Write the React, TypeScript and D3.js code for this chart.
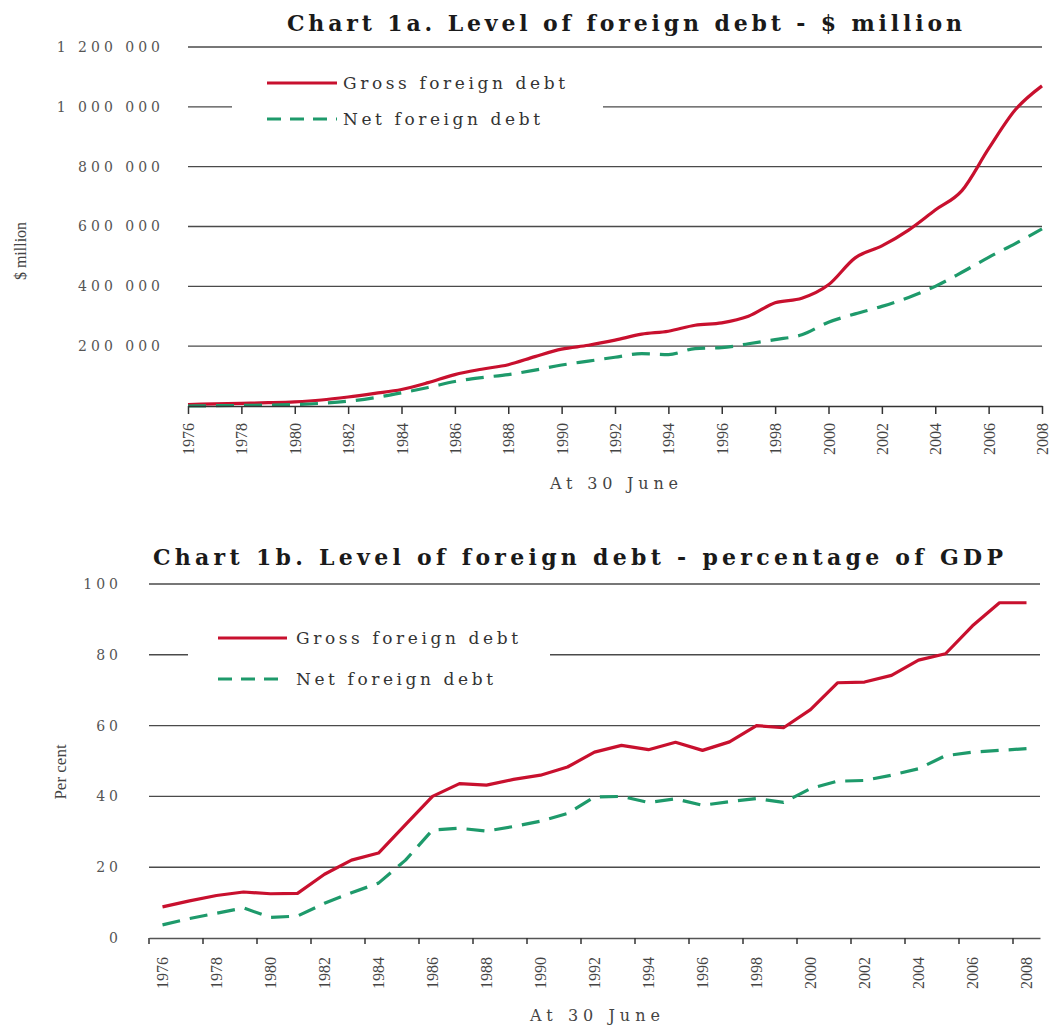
import React, { useRef, useEffect } from 'react';
import * as d3 from 'd3';

// Years at 30 June
const years = [
  1976, 1977, 1978, 1979, 1980, 1981, 1982, 1983, 1984, 1985, 1986,
  1987, 1988, 1989, 1990, 1991, 1992, 1993, 1994, 1995, 1996, 1997,
  1998, 1999, 2000, 2001, 2002, 2003, 2004, 2005, 2006, 2007, 2008,
];
const tickYears = [
  1976, 1978, 1980, 1982, 1984, 1986, 1988, 1990, 1992,
  1994, 1996, 1998, 2000, 2002, 2004, 2006, 2008,
];

// Chart 1a - $ million
const grossMillion = [
  5000, 7000, 9000, 11000, 14000, 20000, 30000, 42000, 55000, 78000, 105000,
  123000, 138000, 165000, 190000, 203000, 220000, 240000, 250000, 270000, 278000, 300000,
  345000, 360000, 405000, 495000, 535000, 588000, 655000, 720000, 860000, 990000, 1070000,
];
const netMillion = [
  0, 1000, 2000, 3000, 5000, 9000, 16000, 28000, 44000, 62000, 82000,
  95000, 105000, 120000, 137000, 150000, 163000, 175000, 172000, 192000, 195000, 208000,
  222000, 238000, 280000, 308000, 333000, 363000, 400000, 447000, 497000, 543000, 592000,
];
const millionTicks = [200000, 400000, 600000, 800000, 1000000, 1200000];

// Chart 1b - percentage of GDP
const grossPct = [
  8.8, 10.5, 12, 13, 12.5, 12.6, 18, 22, 24, 32, 40,
  43.6, 43.2, 44.8, 46, 48.3, 52.5, 54.4, 53.2, 55.3, 53, 55.4,
  60, 59.4, 64.5, 72.1, 72.3, 74.2, 78.5, 80.3, 88.2, 94.7, 94.7,
];
const netPct = [
  3.7, 5.5, 7, 8.5, 5.8, 6.2, 9.8, 12.8, 15.5, 22, 30.5,
  31, 30.2, 31.5, 33, 35.2, 39.8, 40, 38.3, 39.3, 37.5, 38.5,
  39.4, 38.3, 42.2, 44.3, 44.5, 46, 47.8, 51.5, 52.5, 53, 53.5,
];
const pctTicks = [0, 20, 40, 60, 80, 100];

const seriesNames = ['Gross foreign debt', 'Net foreign debt'];
const seriesColors = ['#c8102e', '#1e9a6b'];

const fmtSpace = (v: number) => d3.format(',')(v).replace(/,/g, ' ');

export default function App() {
  const ref = useRef<SVGSVGElement>(null);

  useEffect(() => {
    document.body.style.margin = '0';
    const svg = d3.select(ref.current);
    svg.selectAll('*').remove();

    const gridColor = '#4a4a4a';
    const tickFont = 'DejaVu Serif';

    const legend = (x0: number, x1: number, textX: number, ys: number[], widths: number[], bg: number[]) => {
      svg.append('rect')
        .attr('x', bg[0]).attr('y', bg[1]).attr('width', bg[2]).attr('height', bg[3])
        .attr('fill', '#fff');
      seriesNames.forEach((name, i) => {
        svg.append('line')
          .attr('x1', x0).attr('x2', x1).attr('y1', ys[i]).attr('y2', ys[i])
          .attr('stroke', seriesColors[i]).attr('stroke-width', 3)
          .attr('stroke-dasharray', i === 1 ? '14,9' : null);
        svg.append('text')
          .attr('x', textX).attr('y', ys[i] + 6)
          .attr('font-family', 'DejaVu Serif').attr('font-size', 17)
          .attr('fill', '#333')
          .attr('textLength', widths[i]).attr('lengthAdjust', 'spacing')
          .text(name);
      });
    };

    const title = (txt: string, x: number, y: number, w: number) => {
      svg.append('text')
        .attr('x', x).attr('y', y)
        .attr('font-family', 'DejaVu Serif').attr('font-weight', 'bold').attr('font-size', 22)
        .attr('fill', '#1a1a1a')
        .attr('textLength', w).attr('lengthAdjust', 'spacing')
        .text(txt);
    };

    const yLabels = (g: d3.Selection<any, any, any, any>, ticks: number[], y: d3.ScaleLinear<number, number>, right: number, fmt: (v: number) => string) => {
      g.selectAll('text.yl').data(ticks).enter().append('text')
        .attr('class', 'yl')
        .attr('x', right + 4).attr('y', d => y(d)).attr('dy', '0.35em')
        .attr('text-anchor', 'end')
        .attr('font-family', tickFont).attr('font-size', 14)
        .attr('letter-spacing', 4)
        .attr('fill', '#555')
        .text(d => fmt(d));
    };

    // ---------- Chart 1a ----------
    {
      const x = d3.scalePoint<number>().domain(years).range([188, 1042]);
      const y = d3.scaleLinear().domain([0, 1200000]).range([406, 47]);
      const g = svg.append('g');

      g.selectAll('line.grid').data(millionTicks).enter().append('line')
        .attr('x1', 188).attr('x2', 1042)
        .attr('y1', d => y(d)).attr('y2', d => y(d))
        .attr('stroke', gridColor).attr('stroke-width', 1.4);

      legend(267, 337, 343, [83, 119], [222, 197], [232, 62, 371, 78]);

      const line = d3.line<number>()
        .x((_, i) => x(years[i])!)
        .y(d => y(d))
        .curve(d3.curveMonotoneX);
      [grossMillion, netMillion].forEach((s, i) => {
        g.append('path').datum(s)
          .attr('d', line)
          .attr('fill', 'none')
          .attr('stroke', seriesColors[i]).attr('stroke-width', 3.2)
          .attr('stroke-dasharray', i === 1 ? '18,10' : null);
      });

      const ax = g.append('g').attr('transform', `translate(0,${y(0)})`)
        .call(d3.axisBottom(x).tickValues(tickYears).tickSize(8).tickSizeOuter(0));
      ax.select('.domain').attr('stroke', '#333').attr('stroke-width', 1.5);
      ax.selectAll('.tick line').attr('stroke', '#333').attr('stroke-width', 1.5);
      ax.selectAll('.tick text')
        .attr('transform', 'rotate(-90)')
        .attr('x', -17).attr('y', 0).attr('dy', '0.35em')
        .attr('text-anchor', 'end')
        .attr('font-family', 'Liberation Serif').attr('font-size', 16)
        .attr('fill', '#444');

      yLabels(g, millionTicks, y, 160, fmtSpace);

      title('Chart 1a. Level of foreign debt - $ million', 287, 31, 675);

      svg.append('text')
        .attr('x', 550).attr('y', 489)
        .attr('font-family', 'DejaVu Serif').attr('font-size', 16).attr('fill', '#444')
        .attr('textLength', 128).attr('lengthAdjust', 'spacing')
        .text('At 30 June');

      svg.append('text')
        .attr('transform', 'translate(26,251) rotate(-90)')
        .attr('text-anchor', 'middle')
        .attr('font-family', 'Liberation Serif').attr('font-size', 16).attr('fill', '#444')
        .text('$ million');
    }

    // ---------- Chart 1b ----------
    {
      const x = d3.scaleBand<number>().domain(years).range([149, 1040]);
      const cx = (yr: number) => x(yr)! + x.bandwidth() / 2;
      const y = d3.scaleLinear().domain([0, 100]).range([938, 584]);
      const g = svg.append('g');

      g.selectAll('line.grid').data(pctTicks.filter(d => d > 0)).enter().append('line')
        .attr('x1', 149).attr('x2', 1040)
        .attr('y1', d => y(d)).attr('y2', d => y(d))
        .attr('stroke', gridColor).attr('stroke-width', 1.4);

      legend(218, 287, 296, [638, 679], [222, 197], [188, 612, 362, 84]);

      const line = d3.line<number>()
        .x((_, i) => cx(years[i]))
        .y(d => y(d));
      [grossPct, netPct].forEach((s, i) => {
        g.append('path').datum(s)
          .attr('d', line)
          .attr('fill', 'none')
          .attr('stroke', seriesColors[i]).attr('stroke-width', 3.2)
          .attr('stroke-linejoin', 'round')
          .attr('stroke-dasharray', i === 1 ? '18,10' : null);
      });

      const ax = g.append('g').attr('transform', `translate(0,${y(0)})`)
        .call(d3.axisBottom(x).tickValues(tickYears).tickSize(0).tickSizeOuter(0));
      ax.select('.domain').attr('stroke', '#555').attr('stroke-width', 1.6);
      ax.selectAll('.tick text')
        .attr('transform', 'rotate(-90)')
        .attr('x', -19).attr('y', 0).attr('dy', '0.35em')
        .attr('text-anchor', 'end')
        .attr('font-family', 'Liberation Serif').attr('font-size', 16)
        .attr('fill', '#444');
      // tick marks sit on the category boundaries, every second year
      g.selectAll('line.tk').data(tickYears.slice(0, -1)).enter().append('line')
        .attr('x1', d => x(d)!).attr('x2', d => x(d)!)
        .attr('y1', y(0)).attr('y2', y(0) + 6)
        .attr('stroke', '#333').attr('stroke-width', 1.5);
      g.append('line')
        .attr('x1', x(2007)! + x.bandwidth()).attr('x2', x(2007)! + x.bandwidth())
        .attr('y1', y(0)).attr('y2', y(0) + 6)
        .attr('stroke', '#333').attr('stroke-width', 1.5);

      yLabels(g, pctTicks, y, 118, d => String(d));

      title('Chart 1b. Level of foreign debt - percentage of GDP', 153, 565, 850);

      svg.append('text')
        .attr('x', 530).attr('y', 1021)
        .attr('font-family', 'DejaVu Serif').attr('font-size', 16).attr('fill', '#444')
        .attr('textLength', 130).attr('lengthAdjust', 'spacing')
        .text('At 30 June');

      svg.append('text')
        .attr('transform', 'translate(66,772) rotate(-90)')
        .attr('text-anchor', 'middle')
        .attr('font-family', 'Liberation Serif').attr('font-size', 17).attr('fill', '#444')
        .text('Per cent');
    }
  }, []);

  return <svg ref={ref} width={1052} height={1028} style={{ display: 'block', background: '#fff' }} />;
}
